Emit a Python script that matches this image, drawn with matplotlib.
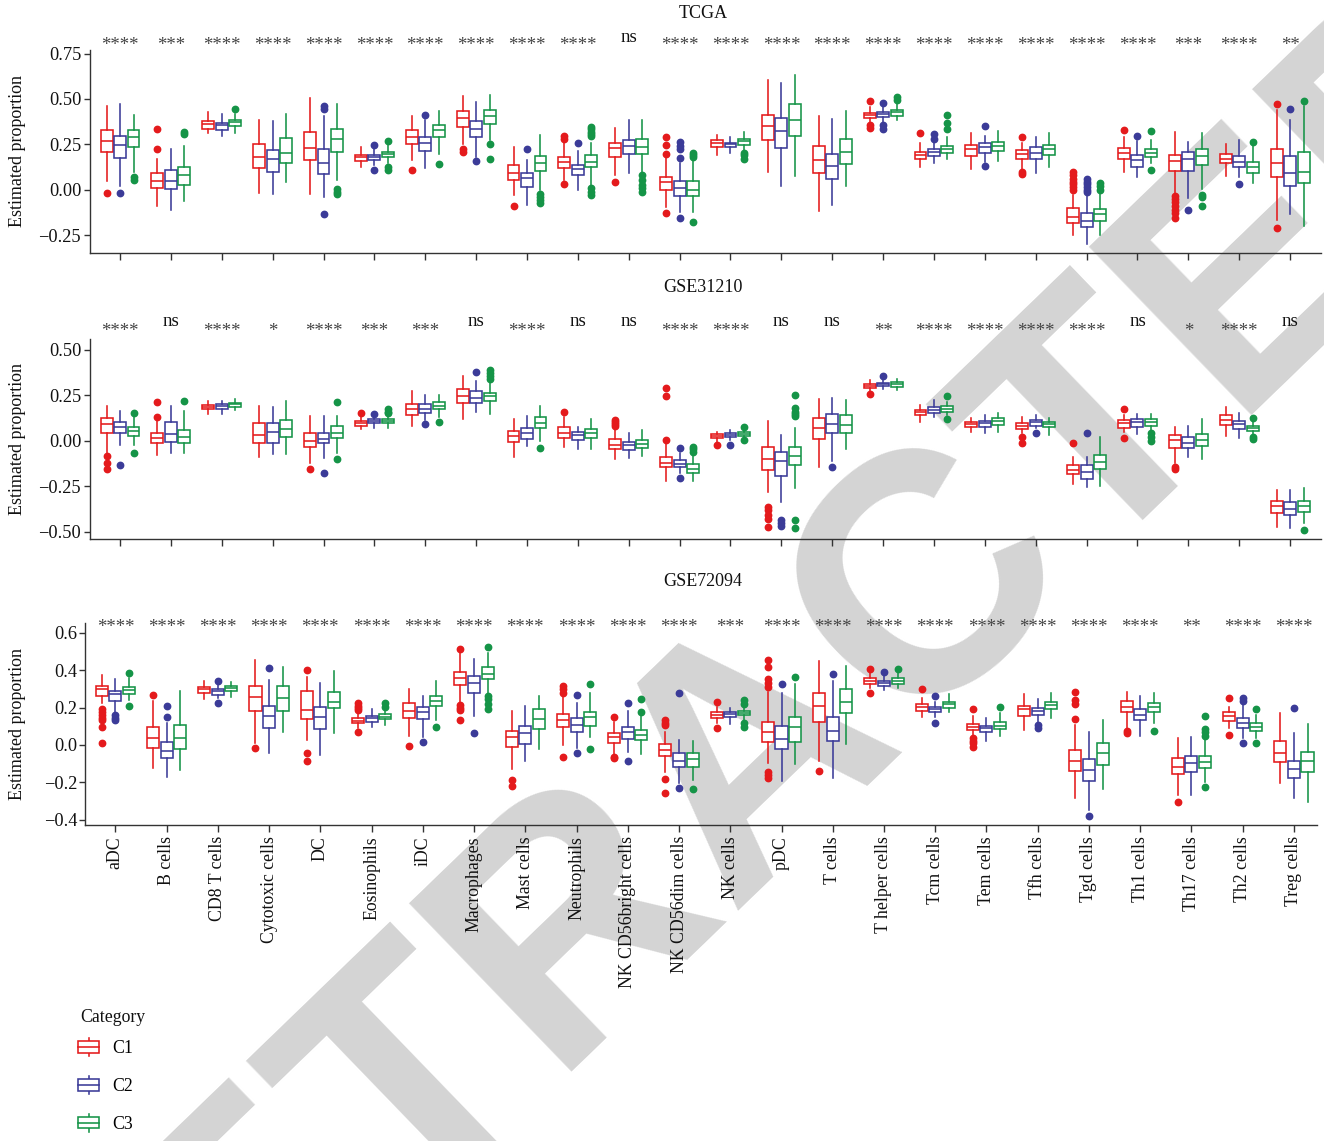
import matplotlib
matplotlib.use('Agg')
import matplotlib.pyplot as plt
import matplotlib.transforms as mtransforms
from matplotlib.legend_handler import HandlerBase
from matplotlib.patches import Rectangle, Patch
from matplotlib.lines import Line2D
from matplotlib.ticker import FuncFormatter

# ---------------- data ----------------
CELL_TYPES = ["aDC", "B cells", "CD8 T cells", "Cytotoxic cells", "DC", "Eosinophils", "iDC",
              "Macrophages", "Mast cells", "Neutrophils", "NK CD56bright cells", "NK CD56dim cells",
              "NK cells", "pDC", "T cells", "T helper cells", "Tcm cells", "Tem cells", "Tfh cells",
              "Tgd cells", "Th1 cells", "Th17 cells", "Th2 cells", "Treg cells"]
GROUPS = ["C1", "C2", "C3"]
COLORS = ["#E41A1C", "#3B3B98", "#159447"]
DATASETS = ["TCGA", "GSE31210", "GSE72094"]

# each row: (lower whisker, Q1, median, Q3, upper whisker)
TCGA_C1 = [(0.05, 0.21, 0.27, 0.33, 0.46), (-0.09, 0.01, 0.05, 0.093, 0.17), (0.313, 0.337, 0.36, 0.38, 0.43),
           (-0.02, 0.12, 0.18, 0.25, 0.386), (-0.026, 0.163, 0.23, 0.32, 0.505), (0.126, 0.16, 0.181, 0.194, 0.233),
           (0.163, 0.251, 0.291, 0.328, 0.407), (0.251, 0.346, 0.397, 0.432, 0.515), (-0.03, 0.053, 0.09, 0.136, 0.236),
           (0.053, 0.121, 0.152, 0.181, 0.264), (0.081, 0.181, 0.231, 0.258, 0.342), (-0.093, -0.002, 0.04, 0.071, 0.181),
           (0.194, 0.236, 0.255, 0.273, 0.304), (0.099, 0.273, 0.352, 0.41, 0.606), (-0.115, 0.09, 0.163, 0.242, 0.405),
           (0.374, 0.397, 0.41, 0.423, 0.456), (0.126, 0.172, 0.194, 0.209, 0.255), (0.112, 0.185, 0.222, 0.245, 0.31),
           (0.112, 0.172, 0.196, 0.218, 0.255), (-0.249, -0.181, -0.148, -0.103, -0.03), (0.099, 0.172, 0.203, 0.231, 0.288),
           (-0.02, 0.103, 0.158, 0.19, 0.319), (0.077, 0.145, 0.172, 0.196, 0.251), (-0.167, 0.068, 0.145, 0.227, 0.438)]
TCGA_C1_OUT = [[-0.02], [0.333, 0.223], [], [], [], [], [0.106], [0.227, 0.209], [-0.09], [0.295, 0.282, 0.031],
               [0.044], [0.291, 0.245, 0.196, -0.126], [], [], [], [0.487, 0.359, 0.34], [0.31], [],
               [0.288, 0.098, 0.088], [0.099, 0.08, 0.06, 0.045, 0.03, 0.015, 0.0], [0.328],
               [-0.035, -0.05, -0.07, -0.09, -0.11, -0.13, -0.157], [], [0.474, -0.212]]
TCGA_C2 = [(0.02, 0.175, 0.245, 0.295, 0.47), (-0.11, 0.002, 0.05, 0.108, 0.227), (0.295, 0.33, 0.355, 0.37, 0.415),
           (-0.026, 0.10, 0.167, 0.22, 0.38), (-0.04, 0.084, 0.145, 0.227, 0.405), (0.136, 0.163, 0.178, 0.19, 0.225),
           (0.117, 0.214, 0.255, 0.291, 0.383), (0.18, 0.291, 0.335, 0.379, 0.484), (-0.084, 0.016, 0.062, 0.093, 0.163),
           (-0.002, 0.081, 0.112, 0.139, 0.214), (0.093, 0.196, 0.24, 0.273, 0.383), (-0.121, -0.033, 0.007, 0.048, 0.145),
           (0.2, 0.233, 0.251, 0.26, 0.291), (0.022, 0.231, 0.322, 0.396, 0.59), (-0.084, 0.057, 0.132, 0.196, 0.392),
           (0.368, 0.401, 0.416, 0.429, 0.455), (0.148, 0.185, 0.207, 0.222, 0.27), (0.154, 0.205, 0.236, 0.258, 0.297),
           (0.09, 0.172, 0.205, 0.233, 0.288), (-0.30, -0.207, -0.17, -0.126, -0.03), (0.071, 0.126, 0.163, 0.19, 0.267),
           (-0.048, 0.103, 0.167, 0.209, 0.264), (0.071, 0.126, 0.154, 0.187, 0.273), (-0.134, 0.02, 0.09, 0.185, 0.383)]
TCGA_C2_OUT = [[-0.02], [], [], [], [0.46, 0.447, -0.134], [0.249, 0.106], [0.414], [0.158], [0.223], [0.26],
               [], [0.264, 0.24, 0.222, 0.176, -0.154], [], [], [], [0.478, 0.355, 0.337], [0.306, 0.282],
               [0.35, 0.13], [], [0.057, 0.045, 0.03, 0.015, 0.0, -0.015], [0.297], [-0.112], [0.029], [0.443]]
TCGA_C3 = [(0.10, 0.235, 0.29, 0.33, 0.41), (-0.06, 0.026, 0.08, 0.126, 0.24), (0.31, 0.35, 0.373, 0.386, 0.42),
           (0.044, 0.145, 0.205, 0.286, 0.415), (0.053, 0.209, 0.282, 0.335, 0.474), (0.145, 0.178, 0.196, 0.209, 0.245),
           (0.196, 0.288, 0.328, 0.359, 0.432), (0.273, 0.364, 0.405, 0.438, 0.52), (-0.002, 0.104, 0.145, 0.187, 0.304),
           (0.026, 0.126, 0.154, 0.19, 0.255), (0.09, 0.196, 0.236, 0.278, 0.383), (-0.121, -0.035, -0.002, 0.048, 0.16),
           (0.218, 0.249, 0.267, 0.282, 0.319), (0.077, 0.297, 0.386, 0.474, 0.634), (0.02, 0.141, 0.209, 0.282, 0.434),
           (0.383, 0.407, 0.429, 0.438, 0.48), (0.172, 0.2, 0.223, 0.24, 0.291), (0.159, 0.214, 0.242, 0.264, 0.322),
           (0.123, 0.19, 0.222, 0.245, 0.31), (-0.249, -0.17, -0.134, -0.108, -0.02), (0.145, 0.178, 0.203, 0.227, 0.273),
           (0.004, 0.136, 0.185, 0.227, 0.313), (0.035, 0.09, 0.126, 0.154, 0.245), (-0.198, 0.035, 0.099, 0.209, 0.46)]
TCGA_C3_OUT = [[0.07, 0.055], [0.32, 0.305], [0.443], [], [0.002, -0.011, -0.026], [0.267, 0.123, 0.108], [0.141],
               [0.251, 0.168], [-0.024, -0.038, -0.057, -0.071],
               [0.346, 0.333, 0.32, 0.307, 0.295, 0.007, -0.011, -0.029], [0.081, 0.053, 0.026, 0.007, -0.015],
               [0.2, 0.19, 0.18, -0.18], [0.205, 0.19, 0.172], [], [], [0.51, 0.495], [0.414, 0.368, 0.337], [], [],
               [0.035, 0.02, 0.0], [0.322, 0.108], [-0.029, -0.038, -0.09], [0.264], [0.489]]

GSE31210_C1 = [(-0.066, 0.044, 0.091, 0.126, 0.19), (-0.08, -0.011, 0.016, 0.044, 0.113), (0.144, 0.173, 0.186, 0.195, 0.217),
               (-0.091, -0.015, 0.031, 0.098, 0.191), (-0.124, -0.033, 0.0, 0.044, 0.135), (0.062, 0.082, 0.095, 0.107, 0.128),
               (0.082, 0.14, 0.173, 0.199, 0.271), (0.118, 0.209, 0.244, 0.286, 0.353), (-0.087, -0.009, 0.026, 0.055, 0.118),
               (-0.033, 0.013, 0.044, 0.073, 0.131), (-0.102, -0.047, -0.024, 0.007, 0.067), (-0.219, -0.146, -0.12, -0.087, -0.015),
               (-0.005, 0.013, 0.026, 0.036, 0.049), (-0.284, -0.16, -0.102, -0.036, 0.109), (-0.142, 0.007, 0.071, 0.126, 0.228),
               (0.27, 0.29, 0.3, 0.313, 0.335), (0.104, 0.14, 0.157, 0.171, 0.195), (0.046, 0.073, 0.089, 0.102, 0.122),
               (0.044, 0.062, 0.08, 0.095, 0.128), (-0.239, -0.184, -0.16, -0.133, -0.087), (0.049, 0.067, 0.095, 0.113, 0.14),
               (-0.124, -0.038, 0.004, 0.031, 0.073), (0.027, 0.086, 0.113, 0.14, 0.186), (-0.474, -0.397, -0.361, -0.333, -0.27)]
GSE31210_C1_OUT = [[-0.084, -0.124, -0.157], [0.213, 0.128], [], [], [-0.157], [0.153], [], [], [], [0.155],
                   [0.113, 0.1, 0.09, 0.08], [0.29, 0.244, 0.004], [-0.024], [-0.364, -0.38, -0.41, -0.43, -0.474],
                   [], [0.255], [], [], [0.018, -0.011], [-0.011], [0.173, 0.013], [-0.142, -0.157], [], []]
GSE31210_C2 = [(-0.024, 0.04, 0.077, 0.104, 0.162), (-0.069, -0.009, 0.035, 0.1, 0.19), (0.149, 0.175, 0.19, 0.2, 0.219),
               (-0.075, -0.015, 0.046, 0.095, 0.186), (-0.097, -0.015, 0.009, 0.044, 0.135), (0.067, 0.095, 0.107, 0.118, 0.135),
               (0.113, 0.153, 0.173, 0.199, 0.25), (0.155, 0.209, 0.237, 0.273, 0.328), (-0.029, 0.009, 0.04, 0.067, 0.135),
               (-0.046, 0.004, 0.031, 0.049, 0.077), (-0.097, -0.051, -0.024, -0.005, 0.044), (-0.179, -0.146, -0.128, -0.106, -0.069),
               (0.004, 0.018, 0.031, 0.04, 0.058), (-0.337, -0.193, -0.109, -0.06, 0.031), (-0.109, 0.04, 0.089, 0.149, 0.237),
               (0.286, 0.299, 0.31, 0.319, 0.335), (0.131, 0.153, 0.171, 0.186, 0.222), (0.04, 0.077, 0.095, 0.109, 0.14),
               (0.067, 0.082, 0.1, 0.113, 0.14), (-0.255, -0.209, -0.169, -0.133, -0.087), (0.036, 0.077, 0.104, 0.118, 0.146),
               (-0.087, -0.042, -0.015, 0.018, 0.082), (0.013, 0.064, 0.089, 0.109, 0.153), (-0.479, -0.406, -0.373, -0.339, -0.273)]
GSE31210_C2_OUT = [[-0.133], [], [], [], [-0.179], [0.146], [0.089], [0.377], [], [], [], [-0.038, -0.206], [-0.024],
                   [-0.434, -0.45, -0.47], [-0.142], [0.353], [], [], [0.04], [0.044], [], [], [], []]
GSE31210_C3 = [(-0.024, 0.026, 0.055, 0.073, 0.131), (-0.066, -0.015, 0.022, 0.058, 0.162), (0.168, 0.186, 0.2, 0.209, 0.231),
               (-0.075, 0.022, 0.062, 0.113, 0.219), (-0.069, 0.013, 0.044, 0.08, 0.137), (0.067, 0.095, 0.107, 0.117, 0.14),
               (0.131, 0.173, 0.191, 0.213, 0.25), (0.149, 0.217, 0.244, 0.264, 0.332), (0.0, 0.067, 0.098, 0.131, 0.191),
               (-0.046, 0.013, 0.04, 0.062, 0.117), (-0.084, -0.042, -0.018, 0.004, 0.058), (-0.22, -0.179, -0.155, -0.129, -0.08),
               (0.013, 0.026, 0.036, 0.047, 0.055), (-0.26, -0.133, -0.082, -0.033, 0.067), (-0.046, 0.044, 0.086, 0.14, 0.226),
               (0.28, 0.295, 0.31, 0.322, 0.341), (0.14, 0.158, 0.175, 0.191, 0.213), (0.049, 0.086, 0.109, 0.122, 0.153),
               (0.031, 0.073, 0.091, 0.104, 0.126), (-0.251, -0.157, -0.115, -0.078, 0.022), (0.058, 0.082, 0.104, 0.118, 0.149),
               (-0.1, -0.029, 0.004, 0.036, 0.117), (0.031, 0.055, 0.067, 0.08, 0.11), (-0.452, -0.393, -0.361, -0.333, -0.26)]
GSE31210_C3_OUT = [[0.153, -0.069], [0.217], [], [], [0.213, -0.102], [0.173, 0.16, 0.15], [0.104],
                   [0.386, 0.37, 0.355, 0.34], [-0.042], [], [], [-0.036, -0.048, -0.06], [0.077, 0.004],
                   [0.25, 0.177, 0.16, 0.145, 0.135, -0.437, -0.479], [], [], [0.244, 0.118], [], [], [],
                   [0.04, 0.02, 0.0], [], [0.122, 0.022, 0.007], [-0.488]]

GSE72094_C1 = [(0.222, 0.262, 0.297, 0.315, 0.374), (-0.125, -0.018, 0.036, 0.094, 0.235), (0.244, 0.276, 0.297, 0.308, 0.342),
               (0.012, 0.183, 0.254, 0.315, 0.454), (0.027, 0.137, 0.187, 0.288, 0.365), (0.089, 0.116, 0.13, 0.142, 0.169),
               (0.048, 0.142, 0.183, 0.226, 0.297), (0.222, 0.32, 0.359, 0.391, 0.489), (-0.13, -0.009, 0.044, 0.077, 0.183),
               (0.0, 0.094, 0.133, 0.164, 0.267), (-0.048, 0.012, 0.041, 0.062, 0.125), (-0.142, -0.057, -0.027, 0.004, 0.071),
               (0.116, 0.142, 0.16, 0.178, 0.205), (-0.098, 0.018, 0.071, 0.121, 0.285), (-0.084, 0.121, 0.21, 0.279, 0.45),
               (0.302, 0.326, 0.343, 0.359, 0.385), (0.151, 0.183, 0.201, 0.219, 0.249), (0.053, 0.08, 0.098, 0.112, 0.155),
               (0.08, 0.155, 0.19, 0.21, 0.27), (-0.285, -0.137, -0.084, -0.027, 0.107), (0.089, 0.174, 0.205, 0.237, 0.285),
               (-0.267, -0.157, -0.116, -0.068, 0.036), (0.089, 0.128, 0.155, 0.178, 0.205), (-0.205, -0.093, -0.041, 0.023, 0.169)]
GSE72094_C1_OUT = [[0.19, 0.175, 0.16, 0.145, 0.133, 0.098, 0.012], [0.267], [], [-0.014], [0.4, -0.044, -0.085],
                   [0.222, 0.21, 0.197, 0.187, 0.068], [-0.005], [0.511, 0.214, 0.2, 0.187, 0.133], [-0.187, -0.219],
                   [0.315, 0.3, 0.28, -0.062], [0.148, -0.062, -0.071], [0.133, 0.12, 0.107, -0.181, -0.254],
                   [0.231, 0.089], [0.454, 0.415, 0.35, 0.33, 0.31, -0.142, -0.16, -0.178], [-0.139], [0.404, 0.276],
                   [0.299], [0.194, 0.036, 0.02, 0.01, -0.009], [], [0.285, 0.24, 0.22, 0.139], [0.077, 0.062],
                   [-0.306], [0.249, 0.053], []]
GSE72094_C2 = [(0.178, 0.235, 0.27, 0.288, 0.351), (-0.169, -0.068, -0.03, 0.014, 0.116), (0.249, 0.267, 0.288, 0.297, 0.33),
               (-0.044, 0.093, 0.155, 0.21, 0.347), (-0.053, 0.084, 0.151, 0.201, 0.333), (0.094, 0.125, 0.142, 0.155, 0.192),
               (0.044, 0.137, 0.174, 0.205, 0.262), (0.155, 0.276, 0.329, 0.37, 0.457), (-0.084, 0.004, 0.062, 0.103, 0.21),
               (-0.014, 0.068, 0.107, 0.142, 0.222), (-0.036, 0.03, 0.068, 0.098, 0.181), (-0.201, -0.119, -0.084, -0.044, 0.027),
               (0.112, 0.151, 0.164, 0.174, 0.196), (-0.192, -0.023, 0.032, 0.103, 0.279), (-0.178, 0.021, 0.075, 0.151, 0.342),
               (0.294, 0.317, 0.333, 0.342, 0.37), (0.148, 0.174, 0.192, 0.205, 0.231), (0.021, 0.068, 0.089, 0.101, 0.142),
               (0.116, 0.16, 0.181, 0.199, 0.244), (-0.347, -0.19, -0.133, -0.075, 0.071), (0.048, 0.133, 0.16, 0.19, 0.263),
               (-0.267, -0.142, -0.094, -0.057, 0.041), (0.036, 0.093, 0.116, 0.146, 0.222), (-0.285, -0.178, -0.13, -0.084, 0.062)]
GSE72094_C2_OUT = [[0.16, 0.142, 0.133], [0.21, 0.148], [0.342, 0.226], [0.409], [], [], [0.014], [0.066], [],
                   [0.267, -0.044], [0.222, -0.084], [0.276, -0.231], [], [0.326], [0.377], [0.388], [0.262, 0.119],
                   [], [0.107, 0.09], [-0.379], [], [], [0.249, 0.235, 0.009], [0.199]]
GSE72094_C3 = [(0.24, 0.272, 0.294, 0.311, 0.355), (-0.133, -0.023, 0.039, 0.107, 0.288), (0.254, 0.288, 0.302, 0.315, 0.335),
               (0.071, 0.181, 0.253, 0.315, 0.415), (0.066, 0.196, 0.231, 0.285, 0.395), (0.107, 0.137, 0.151, 0.164, 0.187),
               (0.133, 0.208, 0.237, 0.262, 0.342), (0.276, 0.352, 0.377, 0.415, 0.489), (-0.023, 0.085, 0.137, 0.19, 0.262),
               (0.044, 0.103, 0.148, 0.174, 0.276), (-0.048, 0.027, 0.053, 0.08, 0.155), (-0.187, -0.119, -0.077, -0.041, 0.021),
               (0.133, 0.16, 0.169, 0.181, 0.205), (-0.103, 0.018, 0.098, 0.151, 0.324), (0.005, 0.169, 0.228, 0.299, 0.422),
               (0.302, 0.326, 0.342, 0.356, 0.385), (0.178, 0.199, 0.217, 0.231, 0.272), (0.048, 0.085, 0.103, 0.121, 0.169),
               (0.142, 0.19, 0.214, 0.231, 0.276), (-0.235, -0.107, -0.044, 0.009, 0.133), (0.116, 0.174, 0.201, 0.222, 0.276),
               (-0.196, -0.125, -0.089, -0.059, 0.027), (0.036, 0.075, 0.098, 0.119, 0.16), (-0.302, -0.146, -0.084, -0.036, 0.11)]
GSE72094_C3_OUT = [[0.383, 0.21], [], [], [], [], [0.222, 0.205], [0.094], [0.521, 0.262, 0.245, 0.22, 0.19], [],
                   [0.326, -0.023], [0.244, 0.178], [-0.237], [0.24, 0.22, 0.119, 0.098], [0.365], [], [0.404], [],
                   [0.201], [], [], [0.077], [0.155, 0.084, 0.07, 0.05, -0.222], [0.192, 0.009], []]

SIG_TCGA = ["****", "***", "****", "****", "****", "****", "****", "****", "****", "****", "ns", "****",
            "****", "****", "****", "****", "****", "****", "****", "****", "****", "***", "****", "**"]
SIG_GSE31210 = ["****", "ns", "****", "*", "****", "***", "***", "ns", "****", "ns", "ns", "****",
                "****", "ns", "ns", "**", "****", "****", "****", "****", "ns", "*", "****", "ns"]
SIG_GSE72094 = ["****", "****", "****", "****", "****", "****", "****", "****", "****", "****", "****", "****",
                "***", "****", "****", "****", "****", "****", "****", "****", "****", "**", "****", "****"]

Y_TICKS_TCGA = [-0.25, 0.0, 0.25, 0.50, 0.75]
Y_TICKS_GSE31210 = [-0.50, -0.25, 0.0, 0.25, 0.50]
Y_TICKS_GSE72094 = [-0.4, -0.2, 0.0, 0.2, 0.4, 0.6]

# ---------------- figure ----------------
W, H = 1324, 1141
SERIF = ["Liberation Serif", "DejaVu Serif"]
plt.rcParams['font.family'] = SERIF
plt.rcParams['axes.unicode_minus'] = True

fig = plt.figure(figsize=(W / 100, H / 100), dpi=100)
fig.patch.set_facecolor('white')

# watermark (drawn under the panels)
fig.text(815 / W, 1 - 815 / H, "RETRACTED", fontsize=245, fontweight='bold',
         family=["Liberation Sans", "DejaVu Sans"], color="#d4d4d4", rotation=44,
         rotation_mode='anchor', ha='center', va='baseline', zorder=-5)

panels = [
    dict(name="TCGA", rows=[TCGA_C1, TCGA_C2, TCGA_C3], outs=[TCGA_C1_OUT, TCGA_C2_OUT, TCGA_C3_OUT],
         sig=SIG_TCGA, yt=Y_TICKS_TCGA, fmt="{:.2f}", px=(89.5, 1320.6, 50, 252.7), ylim=(-0.347, 0.770),
         xlim=(0.4, 24.6), title_y=14, star_y=43, ns_y=38),
    dict(name="GSE31210", rows=[GSE31210_C1, GSE31210_C2, GSE31210_C3],
         outs=[GSE31210_C1_OUT, GSE31210_C2_OUT, GSE31210_C3_OUT],
         sig=SIG_GSE31210, yt=Y_TICKS_GSE31210, fmt="{:.2f}", px=(89.5, 1320.6, 339, 539.3), ylim=(-0.541, 0.558),
         xlim=(0.4, 24.6), title_y=288, star_y=328, ns_y=322),
    dict(name="GSE72094", rows=[GSE72094_C1, GSE72094_C2, GSE72094_C3],
         outs=[GSE72094_C1_OUT, GSE72094_C2_OUT, GSE72094_C3_OUT],
         sig=SIG_GSE72094, yt=Y_TICKS_GSE72094, fmt="{:.1f}", px=(85.3, 1317, 623, 825), ylim=(-0.427, 0.651),
         xlim=(0.414, 24.45), title_y=582, star_y=625, ns_y=620),
]

OFFSET = 0.265
BOXW = 0.235
LW = 1.15
n = len(CELL_TYPES)
xs = list(range(1, n + 1))

for pi, p in enumerate(panels):
    l, r, t, b = p["px"]
    ax = fig.add_axes([l / W, 1 - b / H, (r - l) / W, (b - t) / H])
    ax.set_facecolor('none')
    for gi, (rows, outs) in enumerate(zip(p["rows"], p["outs"])):
        c = COLORS[gi]
        stats = [dict(whislo=rw[0], q1=rw[1], med=rw[2], q3=rw[3], whishi=rw[4], fliers=o)
                 for rw, o in zip(rows, outs)]
        pos = [x + (gi - 1) * OFFSET for x in xs]
        ax.bxp(stats, positions=pos, widths=BOXW, patch_artist=True, showcaps=False,
               boxprops=dict(facecolor='white', edgecolor=c, linewidth=LW),
               medianprops=dict(color=c, linewidth=LW),
               whiskerprops=dict(color=c, linewidth=LW),
               flierprops=dict(marker='o', markerfacecolor=c, markeredgecolor=c, markersize=4.6,
                               linestyle='none'),
               manage_ticks=False)
    ax.set_xlim(*p["xlim"])
    ax.set_ylim(*p["ylim"])
    ax.set_xticks(xs)
    if pi == 2:
        ax.set_xticklabels(CELL_TYPES, rotation=90, fontsize=12.8, color='#111111')
    else:
        ax.set_xticklabels([])
    ax.set_yticks(p["yt"])
    fmt = p["fmt"]
    ax.yaxis.set_major_formatter(FuncFormatter(lambda v, _pos, f=fmt: f.format(v).replace('-', '\u2212')))
    ax.tick_params(axis='y', labelsize=13.2, length=4, width=1.0, color='#333333', labelcolor='#111111', pad=2)
    ax.tick_params(axis='x', length=5, width=1.0, color='#333333', pad=3)
    for s in ['top', 'right']:
        ax.spines[s].set_visible(False)
    for s in ['left', 'bottom']:
        ax.spines[s].set_linewidth(1.0)
        ax.spines[s].set_color('#333333')

    # significance labels
    tr = mtransforms.blended_transform_factory(ax.transData, fig.transFigure)
    for x, lab in zip(xs, p["sig"]):
        if lab == "ns":
            ax.text(x, 1 - p["ns_y"] / H, lab, transform=tr, ha='center', va='center', fontsize=13.5,
                    color='#111111', clip_on=False)
        else:
            ax.text(x, 1 - (p["star_y"] + 3) / H, lab, transform=tr, ha='center', va='center', fontsize=13.5,
                    color='#444444', clip_on=False)

    # panel title and y label
    fig.text(703 / W, 1 - p["title_y"] / H, p["name"], ha='center', va='center', fontsize=13, color='#111111')
    fig.text(18 / W, 1 - ((t + b) / 2) / H, "Estimated proportion", rotation=90, ha='center', va='center',
             fontsize=13, color='#111111')


class BoxHandler(HandlerBase):
    def create_artists(self, legend, orig_handle, xdescent, ydescent, width, height, fontsize, trans):
        c = orig_handle.get_edgecolor()
        x0, y0 = -xdescent, -ydescent
        cx = x0 + width / 2
        bh = height * 0.62
        by = y0 + (height - bh) / 2
        rect = Rectangle((x0, by), width, bh, facecolor='white', edgecolor=c, linewidth=LW, transform=trans)
        med = Line2D([x0, x0 + width], [y0 + height / 2] * 2, color=c, linewidth=LW, transform=trans)
        w1 = Line2D([cx, cx], [y0, by], color=c, linewidth=LW, transform=trans)
        w2 = Line2D([cx, cx], [by + bh, y0 + height], color=c, linewidth=LW, transform=trans)
        return [w1, w2, rect, med]


# legend: title as its own text, entries below it
fig.text(80 / W, 1 - 1018 / H, "Category", ha='left', va='center', fontsize=12.8, color='#111111')
handles = [Patch(edgecolor=c, facecolor='white') for c in COLORS]
leg = fig.legend(handles, GROUPS, loc='upper left', bbox_to_anchor=(78 / W, 1 - 1038 / H),
                 frameon=False, fontsize=12.8, handler_map={Patch: BoxHandler()},
                 handlelength=1.2, handleheight=1.2, handletextpad=0.75, labelspacing=1.05, borderpad=0,
                 borderaxespad=0)

fig.savefig("out.png", dpi=100, facecolor='white')
